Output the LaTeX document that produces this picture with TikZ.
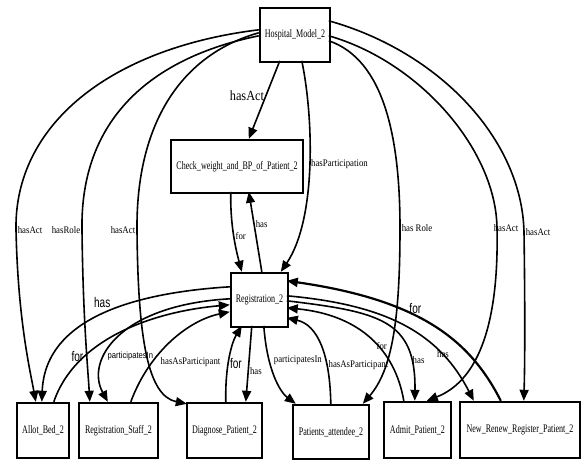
\documentclass[tikz,border=0pt]{standalone}
\usepackage{fontspec}
\usetikzlibrary{arrows.meta,calc}
\newfontfamily\nodefont[FakeStretch=0.7]{Liberation Serif}
\newfontfamily\lblfont[FakeStretch=0.88]{Liberation Serif}
\newfontfamily\lblsans[FakeStretch=0.72]{Liberation Sans}
\newfontfamily\lblsanssmall[FakeStretch=0.85]{Liberation Sans}
\begin{document}
\begin{tikzpicture}[x=1pt,y=-1pt,
  box/.style={draw,line width=2.4pt,inner sep=0pt,anchor=center,
    font=\nodefont\fontsize{11.5}{12}\selectfont},
  rel/.style={line width=1.6pt,-{Triangle[length=11pt,width=9pt]}},
  lbl/.style={inner sep=1pt,font=\lblfont\fontsize{10}{11}\selectfont},
  biglbl/.style={inner sep=1pt,font=\lblfont\fontsize{14}{15}\selectfont},
  sanslbl/.style={inner sep=1pt,font=\lblsans\fontsize{14}{15}\selectfont},
  smallsans/.style={inner sep=1pt,font=\lblsanssmall\fontsize{9}{10}\selectfont}]
\useasboundingbox[fill=white] (0,0) rectangle (582,461);

% classes / individuals
\node[box,minimum width=70pt,minimum height=54pt]  (hosp)  at (295,35)    {Hospital\_Model\_2};
\node[box,minimum width=132pt,minimum height=53pt] (check) at (237,166.5) {Check\_weight\_and\_BP\_of\_Patient\_2};
\node[box,minimum width=57pt,minimum height=54pt]  (reg)   at (259.5,300) {Registration\_2};
\node[box,minimum width=52pt,minimum height=55pt]  (allot) at (43,430.5)  {Allot\_Bed\_2};
\node[box,minimum width=79pt,minimum height=55pt]  (staff) at (118.5,430.5) {Registration\_Staff\_2};
\node[box,minimum width=75pt,minimum height=55pt]  (diag)  at (224.5,430.5) {Diagnose\_Patient\_2};
\node[box,minimum width=76pt,minimum height=54pt]  (pat)   at (331,432)   {Patients\_attendee\_2};
\node[box,minimum width=67pt,minimum height=56pt]  (admit) at (417.5,430) {Admit\_Patient\_2};
\node[box,minimum width=120pt,minimum height=56pt] (renew) at (520,430)   {New\_Renew\_Register\_Patient\_2};

% relations leaving the model
\draw[rel] ($(hosp.north west)+(21,54)$) -- node[biglbl,pos=0.45,anchor=east] {hasAct} ($(check.north west)+(79,0)$);
\draw[rel] ($(hosp.north west)+(43,54)$) .. controls (314,120) and (316,220) .. node[lbl,pos=0.48,anchor=west] {hasParticipation} ($(reg.north west)+(51,0)$);
\draw[rel] ($(hosp.north west)+(0,23)$) .. controls (110,48) and (14,125) .. (16,230) node[lbl,anchor=west] {hasAct}
  .. controls (18,320) and (30,370) .. ($(allot.north west)+(20,0)$);
\draw[rel] ($(hosp.north west)+(0,29)$) .. controls (150,58) and (80,120) .. (82,230) node[lbl,anchor=east] {hasRole}
  .. controls (83,320) and (88,370) .. ($(staff.north west)+(12,0)$);
\draw[rel] ($(hosp.north west)+(0,26)$) .. controls (180,55) and (136,125) .. (137,230) node[lbl,anchor=east] {hasAct}
  .. controls (138,340) and (148,396) .. ($(diag.north west)+(1,2)$);
\draw[rel] ($(hosp.north west)+(70,34)$) .. controls (385,60) and (400,140) .. (400,228) node[lbl,anchor=west] {has Role}
  .. controls (400,320) and (392,370) .. ($(pat.north west)+(71,0)$);
\draw[rel] ($(hosp.north west)+(70,29)$) .. controls (420,62) and (496,150) .. (497,228) node[lbl,anchor=west,xshift=-5pt] {hasAct}
  .. controls (499,320) and (480,380) .. ($(admit.north west)+(44,0)$);
\draw[rel] ($(hosp.north west)+(70,14)$) .. controls (440,52) and (522,140) .. (524,232) node[lbl,anchor=west] {hasAct}
  .. controls (525,300) and (525,360) .. ($(renew.north west)+(65,0)$);

% check weight <-> registration
\draw[rel] ($(check.north west)+(61,53)$) .. controls (230,225) and (236,250) .. node[lbl,pos=0.5,anchor=west] {for} ($(reg.north west)+(12,0)$);
\draw[rel] ($(reg.north west)+(32,0)$) -- node[lbl,pos=0.6,anchor=west] {has} ($(check.north west)+(79,53)$);

% registration <-> allot bed
\draw[rel] ($(reg.north west)+(0,15)$) .. controls (130,293) and (45,320) .. node[sanslbl,pos=0.45,anchor=south,xshift=-8pt,yshift=1pt] {has} ($(allot.north west)+(26,0)$);
\draw[rel] ($(allot.north west)+(38,0)$) .. controls (75,340) and (150,312) .. node[sanslbl,pos=0.3,anchor=east,xshift=-1pt,yshift=-2pt] {for} ($(reg.north west)+(0,33)$);

% registration <-> registration staff
\draw[rel] ($(reg.north west)+(0,27)$) .. controls (120,305) and (85,360) .. node[smallsans,pos=0.65,anchor=west] {participatesIn} ($(staff.north west)+(30,0)$);
\draw[rel] ($(staff.north west)+(53,0)$) .. controls (150,350) and (190,320) .. node[lbl,pos=0.32,anchor=west,xshift=4pt,yshift=-3pt] {hasAsParticipant} ($(reg.north west)+(0,40)$);

% registration <-> diagnose
\draw[rel] ($(diag.north west)+(40,0)$) .. controls (225,365) and (232,342) .. node[sanslbl,pos=0.4,anchor=west] {for} ($(reg.north west)+(12,54)$);
\draw[rel] ($(reg.north west)+(22,54)$) -- node[lbl,pos=0.6,anchor=west] {has} ($(diag.north west)+(60,0)$);

% registration <-> patients attendee
\draw[rel] ($(reg.north west)+(34,54)$) .. controls (267,370) and (280,392) .. node[lbl,pos=0.3,anchor=west,xshift=3pt] {participatesIn} ($(pat.north west)+(4,0)$);
\draw[rel] ($(pat.north west)+(39,0)$) .. controls (330,355) and (318,325) .. node[lbl,pos=0.3,anchor=west] {hasAsParticipant} ($(reg.north west)+(57,46)$);

% registration <-> admit
\draw[rel] ($(admit.north west)+(21,0)$) .. controls (395,350) and (360,315) .. node[lbl,pos=0.38,anchor=south,inner sep=0pt] {for} ($(reg.north west)+(57,36)$);
\draw[rel] ($(reg.north west)+(57,29)$) .. controls (380,312) and (416,320) .. node[lbl,pos=0.8,anchor=west] {has} ($(admit.north west)+(32,0)$);

% registration <-> new / renew registration
\draw[rel] ($(reg.north west)+(57,24)$) .. controls (390,305) and (440,335) .. node[lbl,pos=0.7,xshift=5pt,yshift=-3pt] {has} ($(renew.north west)+(15,0)$);
\draw[rel,line width=2.2pt] ($(renew.north west)+(42,0)$) .. controls (470,340) and (420,300) .. node[sanslbl,pos=0.58,anchor=south,inner sep=1pt] {for} ($(reg.north west)+(57,9)$);
\end{tikzpicture}
\end{document}
